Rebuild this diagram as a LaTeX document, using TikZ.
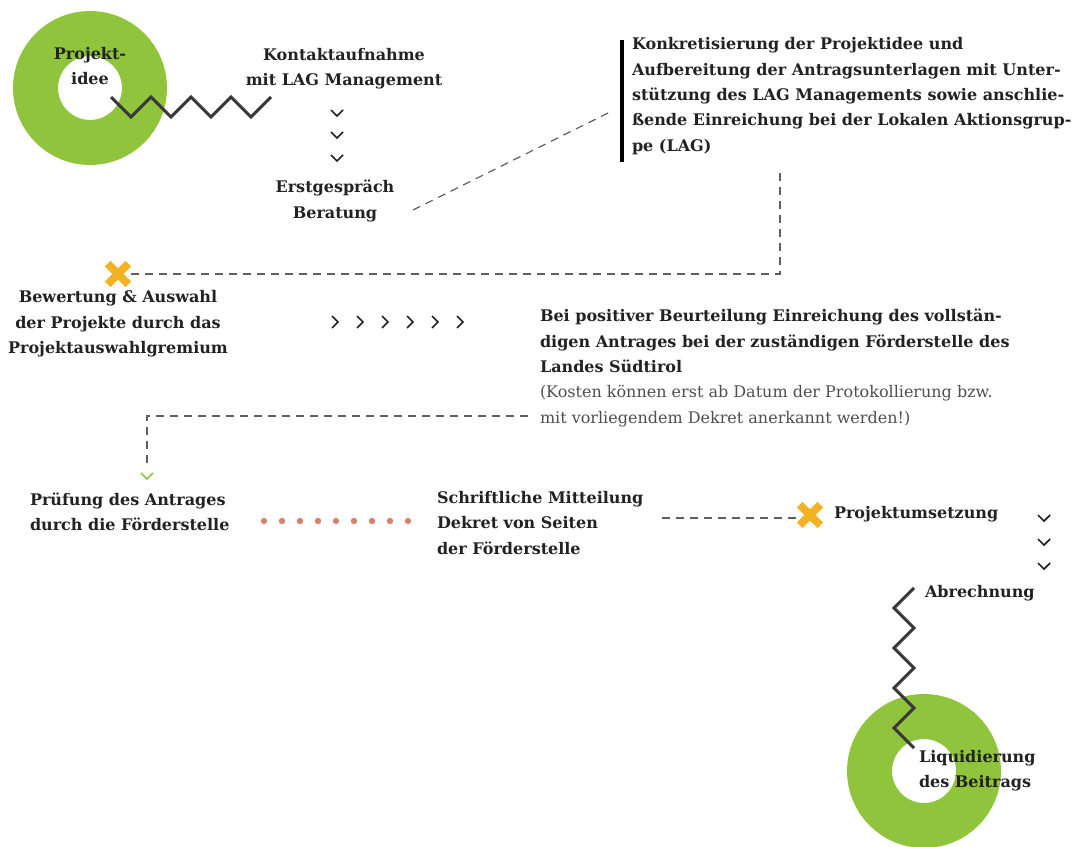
\documentclass[tikz,border=0pt]{standalone}
\usepackage{fontspec}
\setmainfont{DejaVu Serif}
\usetikzlibrary{shapes.misc}
\definecolor{ringgreen}{RGB}{143,196,60}
\definecolor{xyellow}{RGB}{243,177,36}
\definecolor{dotred}{RGB}{214,130,112}
\definecolor{txtgray}{RGB}{34,34,34}
\definecolor{dashgray}{RGB}{95,95,95}

\begin{document}
\begin{tikzpicture}[x=0.75pt,y=-0.75pt,
  every node/.style={font=\fontsize{12}{19}\selectfont\bfseries, text=txtgray, inner sep=0pt, outer sep=0pt},
  ring/.style={circle, draw=ringgreen, line width=33.75pt, minimum size=81.75pt},
  xmark/.style={cross out, draw=xyellow, line width=6pt, minimum size=15.5pt},
  zig/.style={draw=txtgray!90, line width=2.2pt, line join=miter},
  dashline/.style={draw=dashgray, line width=0.9pt, dash pattern=on 6pt off 4.5pt},
  chev/.style={draw=txtgray, line width=1.3pt},
  bar/.style={draw=black, line width=3pt}]
\useasboundingbox (0,0) rectangle (1073,846);

% start
\node[ring] (idee) at (90,88) {};
\node[align=center] (ideetxt) at (90,66) {Projekt-\\idee};
\coordinate (z1) at (111,97);
\draw[zig] (z1) \foreach \i in {1,...,4} {-- ++(20,20) -- ++(20,-20)} coordinate (z1e);
\node[align=center] (kontakt) at (344,69) {Kontaktaufnahme\\mit LAG Management};
\foreach \y in {113,135,158}
  \draw[chev] (331,{\y-3}) -- (337,{\y+3}) -- (343,{\y-3});
\node[align=center] (erst) at (335,201) {Erstgespräch\\Beratung};

% antrag bei der LAG
\node[anchor=west, align=left] (konkret) at (632,96) {Konkretisierung der Projektidee und\\
Aufbereitung der Antragsunterlagen mit Unter-\\
stützung des LAG Managements sowie anschlie-\\
ßende Einreichung bei der Lokalen Aktionsgrup-\\
pe (LAG)};
\draw[bar] (622,40) -- (622,162);
\coordinate (d1a) at (413,210);
\coordinate (d1b) at (610,112);
\draw[dashline] (d1a) -- (d1b);

% bewertung
\node[xmark] (x1) at (118,274) {};
\coordinate (d2a) at (780,173);
\draw[dashline] (d2a) |- (x1.east);
\node[align=center] (bewertung) at (118,324) {Bewertung \& Auswahl\\der Projekte durch das\\Projektauswahlgremium};
\foreach \x in {335,360,385,410,435,460}
  \draw[chev] ({\x-3},316) -- ({\x+3},322) -- ({\x-3},328);
\node[anchor=west, align=left] (bei) at (540,368) {Bei positiver Beurteilung Einreichung des vollstän-\\
digen Antrages bei der zuständigen Förderstelle des\\
Landes Südtirol\\
\mdseries\color{txtgray!80}(Kosten können erst ab Datum der Protokollierung bzw.\\
\mdseries\color{txtgray!80}mit vorliegendem Dekret anerkannt werden!)};

% pruefung
\coordinate (d3a) at (528,416);
\coordinate (pchev) at (147,476);
\draw[dashline] (d3a) -| ([yshift=6pt]pchev);
\draw[chev, draw=ringgreen] (141,473) -- (147,479) -- (153,473);
\node[anchor=west, align=left] (pruef) at (30,512) {Prüfung des Antrages\\durch die Förderstelle};
\foreach \x in {264,282,...,408}
  \fill[dotred] (\x,521) circle (2.4pt);
\node[anchor=west, align=left] (schrift) at (437,523) {Schriftliche Mitteilung\\Dekret von Seiten\\der Förderstelle};
\node[xmark] (x2) at (810,515) {};
\coordinate (d4a) at (662,518);
\draw[dashline] (d4a) -- (x2.west |- d4a);
\node[anchor=west] (umsetz) at (834,514) {Projektumsetzung};
\foreach \y in {518,542,566}
  \draw[chev] (1038,{\y-3}) -- (1044,{\y+3}) -- (1050,{\y-3});

% abrechnung
\node[anchor=west] (abrech) at (925,593) {Abrechnung};
\node[ring] (ende) at (924,771) {};
\coordinate (z2) at (914,588);
\draw[zig] (z2) \foreach \i in {1,...,4} {-- ++(-20,20) -- ++(20,20)} coordinate (z2e);
\node[anchor=west, align=left] (liquid) at (919,771) {Liquidierung\\des Beitrags};
\end{tikzpicture}
\end{document}
